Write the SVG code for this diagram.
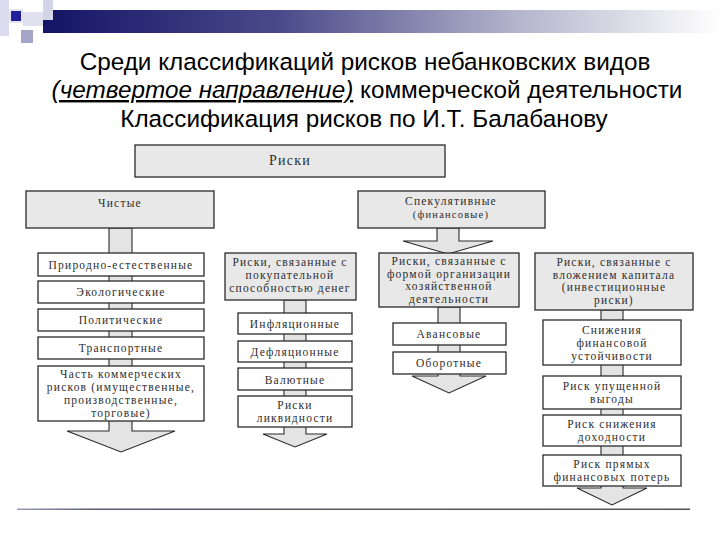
<svg xmlns="http://www.w3.org/2000/svg" width="720" height="540" viewBox="0 0 720 540">
<defs>
<linearGradient id="bar" x1="0" y1="0" x2="1" y2="0">
<stop offset="0" stop-color="#141466"/>
<stop offset="0.35" stop-color="#4a4a8a"/>
<stop offset="0.7" stop-color="#b4b4cc"/>
<stop offset="1" stop-color="#ffffff"/>
</linearGradient>
<linearGradient id="bline" gradientUnits="userSpaceOnUse" x1="17" y1="0" x2="690" y2="0">
<stop offset="0" stop-color="#9a9ab8"/>
<stop offset="0.12" stop-color="#5a5a6a"/>
<stop offset="1" stop-color="#555555"/>
</linearGradient>
</defs>
<style>
.g{fill:#e8e8e8;stroke:#2a2a2a;stroke-width:1.3}
.w{fill:#ffffff;stroke:#2a2a2a;stroke-width:1.3}
.a{fill:#e4e4e4;stroke:#2a2a2a;stroke-width:1.1}
.t{font-family:"Liberation Serif","DejaVu Serif",serif;font-size:11.5px;fill:#2e2e2e;text-anchor:middle;letter-spacing:1.2px}
.h{font-family:"Liberation Sans",Arial,sans-serif;font-size:24.3px;font-weight:400;fill:#000;text-anchor:middle}
</style>
<rect width="720" height="540" fill="#ffffff"/>
<!-- top decoration -->
<g id="decoration">
<rect x="43" y="10" width="677" height="23" fill="url(#bar)"/>
<rect x="0" y="0" width="9" height="36" fill="#dcdcee"/>
<rect x="9" y="9" width="14" height="14" fill="#e4e4f2"/>
<rect x="11" y="11" width="10" height="10" fill="#20209a"/>
<rect x="23" y="12" width="20" height="14" fill="#e0e0ee"/>
<rect x="43" y="0" width="10" height="20" fill="#d4d4e8"/>
<rect x="21" y="30" width="12" height="13" fill="#a4a4c8"/>
</g>
<!-- title -->
<g id="title">
<text class="h" x="365" y="70">Среди классификаций рисков небанковских видов</text>
<text class="h" x="367" y="98"><tspan font-style="italic" text-decoration="underline">(четвертое направление)</tspan> коммерческой деятельности</text>
<text class="h" x="364" y="127">Классификация рисков по И.Т. Балабанову</text>
</g>
<!-- connectors -->
<g id="connectors">
<polygon class="a" points="109,228 132,228 132,431 175,431 121,452 67,431 109,431"/>
<polygon class="a" points="437,228 459,228 459,241 493,241 448,254 403,241 437,241"/>
<polygon class="a" points="284,300 306,300 306,434 327,434 295,447 263,434 284,434"/>
<polygon class="a" points="438,307 460,307 460,376 486,376 449,393 412,376 438,376"/>
<polygon class="a" points="601,310 623,310 623,488 647,488 612,505 577,488 601,488"/>
</g>
<!-- nodes -->
<g id="n-riski">
<rect class="g" x="135" y="145" width="310" height="32"/>
<text class="t" x="290" y="165" style="font-size:14px">Риски</text>
</g>
<g id="n-chistye">
<rect class="g" x="26" y="191" width="188" height="37"/>
<text class="t" x="120" y="207">Чистые</text>
</g>
<g id="n-spek">
<rect class="g" x="358" y="191" width="187" height="37"/>
<text class="t" x="451" y="205">Спекулятивные</text>
<text class="t" x="451" y="218" style="font-size:10.5px">(финансовые)</text>
</g>
<g id="n-prirod">
<rect class="w" x="38" y="253" width="166" height="23"/>
<text class="t" x="121" y="269">Природно-естественные</text>
</g>
<g id="n-ekolog">
<rect class="w" x="38" y="281" width="166" height="22"/>
<text class="t" x="121" y="296">Экологические</text>
</g>
<g id="n-polit">
<rect class="w" x="38" y="309" width="166" height="22"/>
<text class="t" x="121" y="324">Политические</text>
</g>
<g id="n-transp">
<rect class="w" x="38" y="337" width="166" height="22"/>
<text class="t" x="121" y="352">Транспортные</text>
</g>
<g id="n-chast">
<rect class="w" x="38" y="366" width="166" height="55"/>
<text class="t" x="121" y="378">Часть коммерческих</text>
<text class="t" x="121" y="391">рисков (имущественные,</text>
<text class="t" x="121" y="404">производственные,</text>
<text class="t" x="121" y="417">торговые)</text>
</g>
<g id="n-pokup">
<rect class="g" x="225" y="253" width="131" height="47"/>
<text class="t" x="290" y="266">Риски, связанные с</text>
<text class="t" x="290" y="279">покупательной</text>
<text class="t" x="290" y="292">способностью денег</text>
</g>
<g id="n-infl">
<rect class="w" x="238" y="313" width="114" height="21"/>
<text class="t" x="295" y="328">Инфляционные</text>
</g>
<g id="n-defl">
<rect class="w" x="238" y="341" width="114" height="21"/>
<text class="t" x="295" y="356">Дефляционные</text>
</g>
<g id="n-valut">
<rect class="w" x="238" y="368" width="114" height="22"/>
<text class="t" x="295" y="384">Валютные</text>
</g>
<g id="n-likv">
<rect class="w" x="238" y="396" width="114" height="31"/>
<text class="t" x="295" y="409">Риски</text>
<text class="t" x="295" y="422">ликвидности</text>
</g>
<g id="n-forma">
<rect class="g" x="379" y="253" width="140" height="54"/>
<text class="t" x="449" y="265">Риски, связанные с</text>
<text class="t" x="449" y="277.5">формой организации</text>
<text class="t" x="449" y="290">хозяйственной</text>
<text class="t" x="449" y="302.5">деятельности</text>
</g>
<g id="n-avans">
<rect class="w" x="393" y="323" width="113" height="22"/>
<text class="t" x="449" y="338">Авансовые</text>
</g>
<g id="n-oborot">
<rect class="w" x="393" y="352" width="113" height="22"/>
<text class="t" x="449" y="367">Оборотные</text>
</g>
<g id="n-vlozh">
<rect class="g" x="535" y="253" width="158" height="57"/>
<text class="t" x="614" y="266">Риски, связанные с</text>
<text class="t" x="614" y="278.5">вложением капитала</text>
<text class="t" x="614" y="291">(инвестиционные</text>
<text class="t" x="614" y="303.5">риски)</text>
</g>
<g id="n-snizh">
<rect class="w" x="543" y="320" width="138" height="45"/>
<text class="t" x="612" y="334">Снижения</text>
<text class="t" x="612" y="347">финансовой</text>
<text class="t" x="612" y="360">устойчивости</text>
</g>
<g id="n-upush">
<rect class="w" x="543" y="376" width="138" height="33"/>
<text class="t" x="612" y="390">Риск упущенной</text>
<text class="t" x="612" y="403">выгоды</text>
</g>
<g id="n-dohod">
<rect class="w" x="543" y="415" width="138" height="31"/>
<text class="t" x="612" y="428">Риск снижения</text>
<text class="t" x="612" y="441">доходности</text>
</g>
<g id="n-poter">
<rect class="w" x="543" y="455" width="138" height="31"/>
<text class="t" x="612" y="468">Риск прямых</text>
<text class="t" x="612" y="481">финансовых потерь</text>
</g>
<rect x="17" y="508.5" width="673" height="1.5" fill="url(#bline)"/>
</svg>
